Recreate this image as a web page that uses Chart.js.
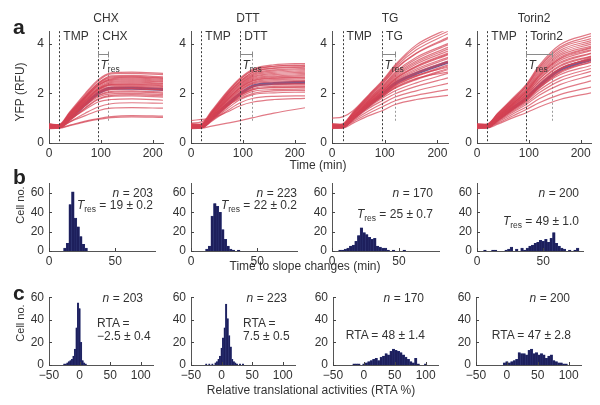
<!DOCTYPE html>
<html><head><meta charset="utf-8">
<script src="https://cdn.jsdelivr.net/npm/chart.js@4/dist/chart.umd.min.js"></script>
<style>
html,body{margin:0;padding:0;background:#fff;}
#fig{position:relative;width:600px;height:405px;overflow:hidden;font-family:"Liberation Sans",Arial,sans-serif;color:#333;}
#fig canvas{position:absolute;}
.t{position:absolute;font-size:12px;white-space:nowrap;line-height:14px;transform:translateY(-50%);}
.c{transform:translate(-50%,-50%);}
.rot{transform:translate(-50%,-50%) rotate(-90deg);}
.sm{font-size:11px;}
.L{font-weight:bold;font-size:21px;line-height:22px;color:#222;}
sub{font-size:8.5px;vertical-align:-3px;}
</style></head>
<body><div id="fig"></div>
<script>
// ---------- data ----------
const TIME = [0, 20, 40, 70, 95, 120, 160, 220];
const drugs = ['CHX', 'DTT', 'TG', 'Torin2'];
const markTimes = [20, 95];
const tresValues = [19, 22, 25, 49];

const tracesCHX = [
 [0.62,0.60,0.70,0.85,0.95,1.02,1.05,1.03],
 [0.66,0.62,0.72,0.88,0.98,1.06,1.10,1.08],
 [0.70,0.66,0.85,1.10,1.30,1.40,1.42,1.40],
 [0.58,0.60,0.85,1.20,1.45,1.58,1.62,1.60],
 [0.75,0.72,0.95,1.35,1.65,1.75,1.78,1.72],
 [0.64,0.62,0.92,1.40,1.75,1.88,1.90,1.85],
 [0.68,0.66,0.98,1.50,1.85,1.98,2.00,1.95],
 [0.72,0.70,1.02,1.55,1.92,2.08,2.10,2.05],
 [0.60,0.62,0.98,1.55,1.98,2.15,2.18,2.12],
 [0.66,0.64,1.04,1.62,2.05,2.22,2.25,2.20],
 [0.70,0.68,1.08,1.68,2.12,2.32,2.32,2.28],
 [0.64,0.66,1.10,1.72,2.18,2.40,2.42,2.38],
 [0.78,0.72,1.14,1.78,2.25,2.48,2.50,2.45],
 [0.62,0.64,1.10,1.80,2.30,2.55,2.58,2.52],
 [0.68,0.70,1.18,1.85,2.38,2.62,2.65,2.60],
 [0.74,0.72,1.22,1.90,2.42,2.70,2.72,2.66],
 [0.66,0.68,1.20,1.95,2.50,2.78,2.80,2.75],
 [0.70,0.74,1.25,2.00,2.55,2.82,2.85,2.80],
 [0.64,0.66,1.00,1.58,2.02,2.18,2.20,2.15],
 [0.72,0.68,1.06,1.64,2.08,2.26,2.28,2.24],
 [0.60,0.62,1.02,1.66,2.14,2.35,2.36,2.30],
 [0.68,0.70,1.12,1.74,2.20,2.44,2.46,2.40],
 [0.74,0.70,1.08,1.70,2.16,2.36,2.38,2.34],
 [0.66,0.64,0.96,1.52,1.90,2.04,2.06,2.00],
 [0.62,0.66,1.14,1.82,2.34,2.58,2.62,2.56],
 [0.70,0.72,1.16,1.84,2.32,2.52,2.54,2.48],
 [0.76,0.74,1.20,1.88,2.40,2.66,2.68,2.62],
 [0.64,0.62,0.90,1.42,1.78,1.92,1.95,1.90]
];
const meanCHX = [0.66,0.65,0.98,1.55,2.00,2.20,2.20,2.15];

const tracesDTT = [
 [0.62,0.60,0.68,0.80,0.90,1.02,1.20,1.42],
 [0.90,0.95,1.00,1.25,1.50,1.65,1.75,1.80],
 [0.66,0.62,0.88,1.30,1.62,1.80,1.88,1.90],
 [0.58,0.60,0.90,1.38,1.75,1.95,2.02,2.05],
 [0.70,0.66,0.96,1.48,1.85,2.08,2.15,2.18],
 [0.64,0.62,1.00,1.55,1.95,2.20,2.28,2.30],
 [0.72,0.70,1.04,1.60,2.02,2.30,2.38,2.40],
 [0.60,0.64,1.02,1.62,2.08,2.38,2.45,2.48],
 [0.68,0.66,1.08,1.70,2.15,2.45,2.55,2.58],
 [0.74,0.70,1.12,1.76,2.22,2.52,2.62,2.65],
 [0.62,0.66,1.10,1.80,2.28,2.60,2.70,2.75],
 [0.66,0.68,1.16,1.86,2.36,2.68,2.80,2.85],
 [0.70,0.72,1.20,1.92,2.42,2.76,2.90,2.95],
 [0.76,0.74,1.24,1.98,2.50,2.85,3.00,3.05],
 [0.64,0.70,1.22,2.02,2.56,2.92,3.08,3.12],
 [0.68,0.76,1.30,2.08,2.62,2.98,3.15,3.20],
 [0.80,0.85,1.10,1.50,1.80,2.00,2.10,2.12],
 [0.62,0.62,0.92,1.45,1.90,2.15,2.22,2.25],
 [0.64,0.66,1.04,1.66,2.12,2.42,2.50,2.52],
 [0.70,0.68,1.10,1.74,2.20,2.50,2.60,2.62],
 [0.62,0.64,1.06,1.72,2.24,2.56,2.66,2.70],
 [0.68,0.70,1.14,1.82,2.32,2.64,2.75,2.80],
 [0.74,0.72,1.18,1.88,2.38,2.72,2.85,2.90],
 [0.66,0.64,0.98,1.58,2.00,2.26,2.34,2.36],
 [0.60,0.62,0.94,1.50,1.92,2.16,2.24,2.26],
 [0.72,0.74,1.22,1.94,2.46,2.80,2.94,3.00],
 [0.66,0.70,1.20,1.96,2.48,2.86,3.02,3.08],
 [0.78,0.76,1.26,2.04,2.58,2.94,3.10,3.15]
];
const meanDTT = [0.66,0.65,0.98,1.55,1.98,2.30,2.40,2.45];

const tracesTG = [
 [0.62,0.60,0.80,1.10,1.30,1.55,1.75,1.92],
 [0.66,0.64,0.86,1.20,1.45,1.70,1.92,2.15],
 [0.58,0.62,0.90,1.30,1.58,1.85,2.10,2.40],
 [0.70,0.66,0.94,1.40,1.70,1.98,2.28,2.62],
 [0.64,0.62,0.96,1.45,1.80,2.10,2.42,2.80],
 [0.72,0.70,1.00,1.50,1.86,2.20,2.55,2.95],
 [0.60,0.64,1.02,1.55,1.92,2.30,2.68,3.10],
 [0.68,0.66,1.04,1.58,1.98,2.40,2.80,3.25],
 [0.74,0.70,1.08,1.62,2.04,2.48,2.92,3.40],
 [0.62,0.66,1.06,1.66,2.10,2.56,3.05,3.55],
 [0.66,0.68,1.10,1.70,2.16,2.65,3.18,3.70],
 [0.70,0.72,1.14,1.74,2.22,2.75,3.30,3.85],
 [0.76,0.74,1.18,1.80,2.28,2.85,3.45,4.00],
 [0.64,0.70,1.16,1.84,2.34,2.95,3.60,4.20],
 [0.68,0.76,1.22,1.90,2.42,3.05,3.75,4.40],
 [1.00,1.05,1.30,1.95,2.50,3.15,3.95,4.60],
 [0.66,0.64,0.98,1.50,1.90,2.25,2.60,2.85],
 [0.72,0.68,1.02,1.56,1.96,2.35,2.72,3.05],
 [0.64,0.66,1.02,1.60,2.02,2.44,2.86,3.30],
 [0.70,0.68,1.06,1.64,2.08,2.52,2.98,3.45],
 [0.62,0.64,1.04,1.68,2.14,2.60,3.10,3.62],
 [0.68,0.70,1.12,1.72,2.20,2.70,3.24,3.78],
 [0.74,0.72,1.16,1.78,2.26,2.80,3.38,3.95],
 [0.66,0.64,1.00,1.54,1.94,2.32,2.70,3.15],
 [0.60,0.62,0.96,1.48,1.86,2.22,2.58,3.00],
 [0.72,0.74,1.20,1.86,2.38,2.98,3.62,4.25],
 [0.66,0.70,1.08,1.62,2.06,2.58,3.08,3.58],
 [0.78,0.76,1.24,1.92,2.46,3.10,3.86,4.50]
];
const meanTG = [0.66,0.65,1.00,1.52,1.95,2.40,2.80,3.25];

const tracesTorin2 = [
 [0.62,0.60,0.76,1.02,1.22,1.45,1.75,2.02],
 [0.66,0.64,0.80,1.10,1.35,1.62,1.95,2.25],
 [0.58,0.62,0.84,1.18,1.45,1.78,2.15,2.50],
 [0.70,0.66,0.88,1.25,1.55,1.92,2.35,2.72],
 [0.64,0.62,0.90,1.30,1.62,2.02,2.50,2.88],
 [0.72,0.70,0.94,1.35,1.68,2.12,2.62,3.00],
 [0.60,0.64,0.96,1.40,1.75,2.22,2.75,3.12],
 [0.68,0.66,0.98,1.44,1.80,2.30,2.88,3.25],
 [0.74,0.70,1.02,1.48,1.86,2.40,3.00,3.38],
 [0.62,0.66,1.00,1.52,1.92,2.48,3.12,3.50],
 [0.66,0.68,1.04,1.56,1.98,2.58,3.25,3.62],
 [0.70,0.72,1.08,1.60,2.05,2.68,3.38,3.75],
 [0.76,0.74,1.12,1.66,2.12,2.78,3.52,3.90],
 [0.64,0.70,1.10,1.70,2.20,2.90,3.65,4.05],
 [0.68,0.76,1.16,1.76,2.28,3.02,3.80,4.20],
 [0.72,0.74,1.20,1.82,2.36,3.12,3.95,4.40],
 [0.66,0.64,0.92,1.34,1.70,2.20,2.85,3.35],
 [0.70,0.68,0.96,1.40,1.78,2.30,2.95,3.45],
 [0.64,0.66,1.00,1.50,1.92,2.46,3.08,3.48],
 [0.70,0.68,1.04,1.54,1.98,2.56,3.20,3.60],
 [0.62,0.64,1.02,1.58,2.04,2.64,3.32,3.72],
 [0.68,0.70,1.08,1.62,2.10,2.74,3.45,3.85],
 [0.74,0.72,1.12,1.68,2.16,2.84,3.58,3.98],
 [0.66,0.64,0.96,1.44,1.84,2.36,2.98,3.40],
 [0.60,0.62,0.92,1.38,1.76,2.26,2.82,3.28],
 [0.72,0.74,1.16,1.74,2.26,2.96,3.72,4.12],
 [0.66,0.70,1.06,1.60,2.06,2.70,3.40,3.82],
 [0.78,0.76,1.18,1.78,2.32,3.06,3.86,4.30]
];
const meanTorin2 = [0.66,0.65,0.95,1.42,1.80,2.30,2.95,3.35];

// time to slope changes (min) histograms
const tresBinsCHX = [12,14,16,18,20,22,24,26,28];
const tresCountsCHX = [3,8,48,61,34,25,15,7,3];
const tresBinsDTT = [12,14,16,18,20,22,24,26,28,30,32,36];
const tresCountsDTT = [2,5,36,49,46,40,22,12,5,2,1,1];
const tresBinsTG = [6,8,10,12,14,16,18,20,22,24,26,28,30,32,34,36,38,40,42,46,54];
const tresCountsTG = [1,1,2,3,5,6,10,16,24,19,17,14,12,13,5,4,3,3,1,1,1];
const tresBinsTorin2 = [6,12,14,22,24,26,30,34,36,38,40,42,44,46,48,50,52,54,56,58,60,62,64,66,70,74,76];
const tresCountsTorin2 = [1,1,1,1,2,4,2,3,1,3,5,6,8,9,11,10,12,9,13,19,8,5,3,2,1,1,3];

// relative translational activity (RTA %) histograms
const rtaBinsCHX = [-25,-22.5,-20,-17.5,-15,-12.5,-10,-7.5,-5,-2.5,0,2.5,5,7.5,10];
const rtaCountsCHX = [1,1,2,3,4,5,8,14,33,55,50,20,4,2,1];
const rtaBinsDTT = [-25,-20,-15,-10,-7.5,-5,-2.5,0,2.5,5,7.5,10,12.5,15,17.5,20,22.5,25,30,35];
const rtaCountsDTT = [1,1,1,2,3,5,8,15,24,33,54,41,26,16,5,3,2,1,1,1];
const rtaBinsTG = [-16,-12,-8,0,4,8,12,16,20,24,28,32,36,40,44,48,52,56,60,64,68,72,76,80,84,88,100];
const rtaCountsTG = [1,1,1,1,2,3,4,5,6,4,7,8,10,9,12,14,13,12,11,9,7,5,3,2,6,1,1];
const rtaBinsTorin2 = [-4,0,4,8,12,16,20,24,28,32,36,40,44,48,52,56,60,64,68,72,76,80,84,88,92,96];
const rtaCountsTorin2 = [2,3,2,3,4,5,11,10,10,9,13,14,10,11,9,10,9,6,8,9,4,3,2,2,1,1];

const nCells = [203, 223, 170, 200];
const tresText = ['19 ± 0.2', '22 ± 0.2', '25 ± 0.7', '49 ± 1.0'];
const rtaText = ['−2.5 ± 0.4', '7.5 ± 0.5', '48 ± 1.4', '47 ± 2.8'];

// ---------- layout ----------
const FONT = '"Liberation Sans", Arial, sans-serif';
const TXT = '#333';
const fig = document.getElementById('fig');
const rowA = {top: 29, h: 114, lefts: [49, 191, 332, 477], ws: [114, 114, 116, 114]};
const rowB = {top: 181, h: 70, lefts: [49, 191, 332, 477], ws: [106, 106, 107, 106]};
const rowC = {top: 295, h: 70, lefts: [49, 191, 333, 476], ws: [104, 104, 105, 105]};

function addText(html, x, y, cls, align) {
  const d = document.createElement('div');
  d.className = 't ' + (cls || '');
  d.innerHTML = html;
  if (align === 'right') { d.style.right = (600 - x) + 'px'; }
  else d.style.left = x + 'px';
  d.style.top = y + 'px';
  fig.appendChild(d);
  return d;
}

const inwardTicks = {
  id: 'inwardTicks',
  afterDraw(chart) {
    const ctx = chart.ctx, a = chart.chartArea;
    const xs = chart.scales.x, ys = chart.scales.y;
    ctx.save();
    ctx.strokeStyle = '#444'; ctx.lineWidth = 1;
    xs.ticks.forEach(t => {
      const px = Math.round(xs.getPixelForValue(t.value)) + 0.5;
      ctx.beginPath(); ctx.moveTo(px, a.bottom); ctx.lineTo(px, a.bottom - 3); ctx.stroke();
    });
    ys.ticks.forEach(t => {
      const py = Math.round(ys.getPixelForValue(t.value)) + 0.5;
      ctx.beginPath(); ctx.moveTo(a.left, py); ctx.lineTo(a.left + 3, py); ctx.stroke();
    });
    ctx.restore();
  }
};

const yfpMarks = {
  id: 'yfpMarks',
  beforeDatasetsDraw(chart, args, o) {
    const ctx = chart.ctx, xs = chart.scales.x, ys = chart.scales.y;
    const xe = Math.round(xs.getPixelForValue(o.tresEnd)) + 0.5;
    ctx.save();
    ctx.strokeStyle = '#9a9a9a'; ctx.lineWidth = 1; ctx.setLineDash([2, 2]);
    ctx.beginPath(); ctx.moveTo(xe, ys.getPixelForValue(3.55)); ctx.lineTo(xe, ys.getPixelForValue(0.9)); ctx.stroke();
    ctx.restore();
  },
  afterDatasetsDraw(chart, args, o) {
    const ctx = chart.ctx, xs = chart.scales.x, ys = chart.scales.y, a = chart.chartArea;
    ctx.save();
    ctx.strokeStyle = '#3a3a3a'; ctx.lineWidth = 1; ctx.setLineDash([2, 2]);
    o.lines.forEach(v => {
      const px = Math.round(xs.getPixelForValue(v)) + 0.5;
      ctx.beginPath(); ctx.moveTo(px, a.top); ctx.lineTo(px, a.bottom); ctx.stroke();
    });
    ctx.setLineDash([]);
    ctx.fillStyle = TXT; ctx.font = '12px ' + FONT; ctx.textBaseline = 'middle';
    const ly = ys.getPixelForValue(4.28);
    ctx.fillText(o.names[0], xs.getPixelForValue(o.lines[0]) + 4, ly);
    ctx.fillText(o.names[1], xs.getPixelForValue(o.lines[1]) + 4, ly);
    // T_res bracket
    const x0 = Math.round(xs.getPixelForValue(o.lines[1])) + 0.5;
    const x1 = Math.round(xs.getPixelForValue(o.tresEnd)) + 0.5;
    const by = Math.round(ys.getPixelForValue(3.57)) + 0.5;
    ctx.strokeStyle = '#8a8a8a';
    ctx.beginPath();
    ctx.moveTo(x0, by); ctx.lineTo(x1, by);
    ctx.moveTo(x0, by - 3); ctx.lineTo(x0, by + 3);
    ctx.moveTo(x1, by - 3); ctx.lineTo(x1, by + 3);
    ctx.stroke();
    const ty = ys.getPixelForValue(3.12);
    ctx.font = 'italic 12px ' + FONT;
    ctx.fillText('T', x0 + 2, ty);
    const tw = ctx.measureText('T').width;
    ctx.font = '8.5px ' + FONT;
    ctx.fillText('res', x0 + 2 + tw, ty + 4);
    ctx.restore();
  }
};

function axisCfg(min, max, step, fix, isX) {
  const c = {
    type: 'linear', min: min, max: max,
    grid: {display: false, drawTicks: false},
    border: {display: true, color: '#555', width: 1},
    ticks: {stepSize: step, includeBounds: false, color: TXT, padding: isX ? 3 : 5,
      font: {family: FONT, size: 12}, maxRotation: 0, autoSkip: false,
      callback: v => String(v).replace('-', '−')},
    afterFit: s => { if (isX) s.height = fix; else s.width = fix; }
  };
  if (isX) c.offset = false;
  return c;
}

function makeCanvas(left, top, w, h) {
  const cv = document.createElement('canvas');
  cv.width = w + 55; cv.height = h + 35;
  cv.style.left = (left - 40) + 'px'; cv.style.top = (top - 10) + 'px';
  cv.style.width = (w + 55) + 'px'; cv.style.height = (h + 35) + 'px';
  fig.appendChild(cv);
  return cv;
}

const baseOpts = {
  responsive: false, animation: false, devicePixelRatio: 1,
  layout: {padding: {top: 10, right: 15, left: 0, bottom: 0}},
};

// ---------- row a ----------
const allTraces = [tracesCHX, tracesDTT, tracesTG, tracesTorin2];
const allMeans = [meanCHX, meanDTT, meanTG, meanTorin2];
const toXY = arr => arr.map((v, i) => ({x: TIME[i], y: v}));
drugs.forEach((d, k) => {
  const cv = makeCanvas(rowA.lefts[k], rowA.top, rowA.ws[k], rowA.h);
  const ds = allTraces[k].map(tr => ({
    data: toXY(tr), borderColor: 'rgba(212,66,82,0.7)', borderWidth: 1.2,
    pointRadius: 0, cubicInterpolationMode: 'monotone'
  }));
  ds.push({data: toXY(allMeans[k]), borderColor: 'rgba(78,68,138,0.85)', borderWidth: 3,
    pointRadius: 0, cubicInterpolationMode: 'monotone'});
  new Chart(cv, {
    type: 'line',
    data: {datasets: ds},
    options: Object.assign({}, baseOpts, {
      plugins: {legend: {display: false}, tooltip: {enabled: false},
        yfpMarks: {lines: markTimes, names: ['TMP', d], tresEnd: markTimes[1] + tresValues[k]}},
      scales: {x: axisCfg(0, 220, 100, 25, true), y: axisCfg(0, 4.5, 2, 40, false)}
    }),
    plugins: [yfpMarks, inwardTicks]
  });
  addText(d, rowA.lefts[k] + rowA.ws[k] / 2, 18, 'c');
});

// ---------- histograms ----------
function hist(row, k, bins, counts, xmin, xmax, ymax) {
  const cv = makeCanvas(row.lefts[k], row.top, row.ws[k], row.h);
  new Chart(cv, {
    type: 'bar',
    data: {datasets: [{data: bins.map((b, i) => ({x: b, y: counts[i]})),
      backgroundColor: '#1d1f5c', borderColor: '#2c3577', borderWidth: 0.4,
      barPercentage: 1, categoryPercentage: 1}]},
    options: Object.assign({}, baseOpts, {
      plugins: {legend: {display: false}, tooltip: {enabled: false}},
      scales: {x: axisCfg(xmin, xmax, 50, 25, true), y: axisCfg(0, ymax, 20, 40, false)}
    }),
    plugins: [inwardTicks]
  });
}
const tresBins = [tresBinsCHX, tresBinsDTT, tresBinsTG, tresBinsTorin2];
const tresCounts = [tresCountsCHX, tresCountsDTT, tresCountsTG, tresCountsTorin2];
const rtaBins = [rtaBinsCHX, rtaBinsDTT, rtaBinsTG, rtaBinsTorin2];
const rtaCounts = [rtaCountsCHX, rtaCountsDTT, rtaCountsTG, rtaCountsTorin2];
for (let k = 0; k < 4; k++) {
  hist(rowB, k, tresBins[k], tresCounts[k], 0, 80, 70);
  hist(rowC, k, rtaBins[k], rtaCounts[k], -50, 120, 60);
}

// ---------- text ----------
addText('a', 13, 27, 'L');
addText('b', 13, 177, 'L');
addText('c', 13, 293, 'L');
addText('YFP (RFU)', 20, 92, 'rot');
addText('Cell no.', 20, 205, 'rot sm');
addText('Cell no.', 20, 323, 'rot sm');
addText('Time (min)', 318, 165, 'c');
addText('Time to slope changes (min)', 305, 266, 'c');
addText('Relative translational activities (RTA %)', 311, 390, 'c');

const bRight = [153, 297, 433, 579];
const bTresY = [207, 207, 216, 223];
const cRight = [143, 287, 424, 570];
for (let k = 0; k < 4; k++) {
  addText('<i>n</i> = ' + nCells[k], bRight[k], 193, '', 'right');
  addText('<i>T</i><sub>res</sub> = ' + tresText[k], bRight[k], bTresY[k], '', 'right');
  addText('<i>n</i> = ' + nCells[k], cRight[k], 298, '', 'right');
  if (k < 2) {
    const lx = [97, 243][k];
    addText('RTA =', lx, 323);
    addText(rtaText[k], lx, 336);
  } else {
    addText('RTA = ' + rtaText[k], cRight[k] + 1, 335, '', 'right');
  }
}
</script>
</body></html>
